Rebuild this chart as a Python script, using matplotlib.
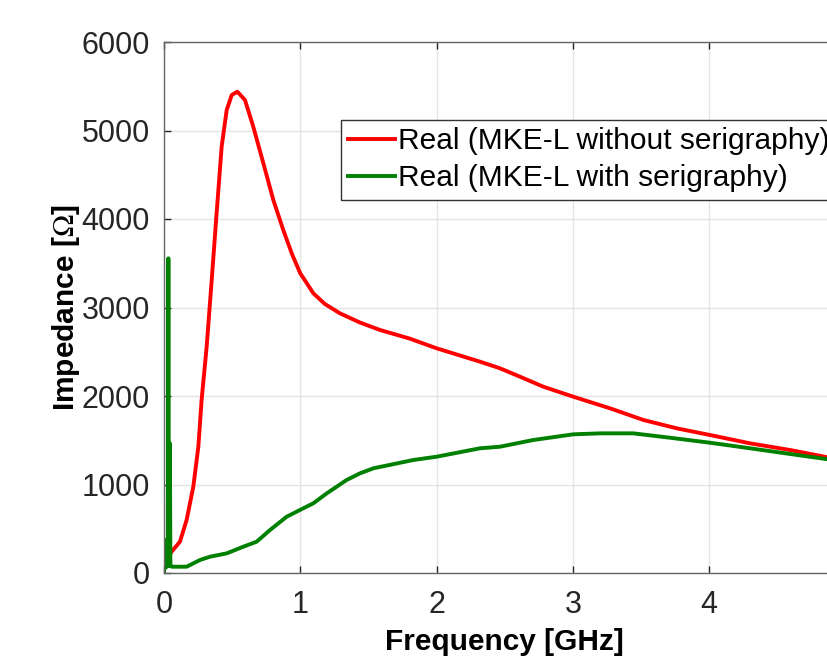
import matplotlib
matplotlib.use("Agg")
import matplotlib.pyplot as plt
import numpy as np

plt.rcParams['font.family'] = ['Liberation Sans', 'DejaVu Sans']
plt.rcParams['mathtext.fontset'] = 'stix'

# Red: Real (MKE-L without serigraphy)
red_f = [0.056, 0.117, 0.166, 0.215, 0.252, 0.276, 0.313, 0.350, 0.386, 0.423, 0.460,
         0.497, 0.538, 0.594, 0.655, 0.729, 0.802, 0.875, 0.940, 1.000, 1.096, 1.180,
         1.291, 1.438, 1.585, 1.800, 2.000, 2.318, 2.465, 2.612, 2.783, 3.003, 3.272,
         3.517, 3.761, 4.006, 4.300, 4.593, 4.870, 5.000]
red_z = [241, 354, 599, 975, 1427, 1955, 2557, 3311, 4064, 4817, 5232,
         5401, 5439, 5345, 5043, 4629, 4215, 3876, 3600, 3386, 3160, 3040,
         2934, 2830, 2746, 2650, 2539, 2388, 2313, 2218, 2105, 1992, 1861,
         1729, 1635, 1559, 1465, 1390, 1307, 1275]

# Green: Real (MKE-L with serigraphy)
green_f = [0.0, 0.007, 0.012, 0.020, 0.028, 0.032, 0.036, 0.040, 0.043, 0.047, 0.056,
           0.166, 0.264, 0.337, 0.460, 0.582, 0.680, 0.778, 0.900, 1.022, 1.096, 1.194,
           1.340, 1.438, 1.536, 1.830, 2.000, 2.318, 2.465, 2.710, 3.003, 3.200, 3.443,
           3.688, 4.006, 4.300, 4.593, 4.870, 5.000]
green_z = [0, 373, 60, 70, 80, 3556, 120, 80, 1465, 90, 71,
           71, 147, 184, 222, 297, 354, 486, 636, 731, 788, 900,
           1051, 1126, 1183, 1277, 1314, 1409, 1427, 1503, 1567, 1578, 1578,
           1533, 1472, 1409, 1345, 1285, 1260]

labels = ['Real (MKE-L without serigraphy)', 'Real (MKE-L with serigraphy)']

fig = plt.figure(figsize=(8.28, 6.68), dpi=100)
ax = fig.add_axes([164/828, 95/668, 681.5/828, 531/668])

ax.plot(red_f, red_z, color='#ff0000', lw=2.8, label=labels[0],
        solid_joinstyle='round')
ax.plot(green_f, green_z, color='#008000', lw=2.8, label=labels[1],
        solid_joinstyle='round')

ax.set_xlim(0, 5)
ax.set_ylim(0, 6000)
ax.set_xticks([0, 1, 2, 3, 4])
ax.set_yticks(np.arange(0, 6001, 1000))
ax.grid(True, color='#e3e3e3', lw=1.0)
ax.set_axisbelow(True)
ax.tick_params(direction='in', length=5, width=1, colors='#262626', labelsize=22,
               top=True, right=True)
ax.tick_params(axis='x', pad=12)
ax.tick_params(axis='y', pad=10)
for s in ax.spines.values():
    s.set_color('#666666')
    s.set_linewidth(1.0)

ax.set_xlabel('Frequency [GHz]', fontsize=21.5, fontweight='bold', labelpad=6)
ax.set_ylabel(r'Impedance [$\Omega$]', fontsize=21.5, fontweight='bold', labelpad=0)

leg = ax.legend(loc='upper left', bbox_to_anchor=(341/828, 1 - 120/668),
                bbox_transform=fig.transFigure, fontsize=21.5, frameon=True,
                fancybox=False, framealpha=1, edgecolor='#333333',
                handlelength=1.55, handletextpad=0.1, borderpad=0.25,
                labelspacing=0.3, borderaxespad=0)
leg.get_frame().set_linewidth(1.0)

fig.savefig('out.png', dpi=100)
